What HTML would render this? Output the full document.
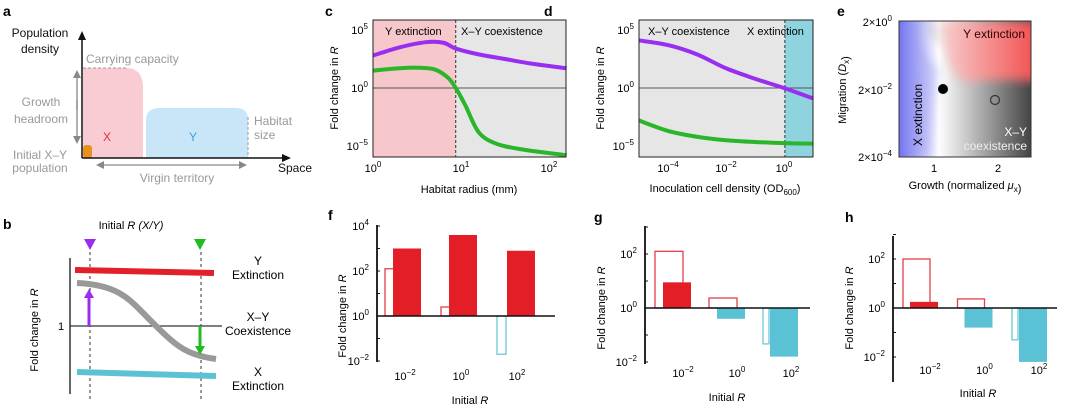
<!DOCTYPE html>
<html><head><meta charset="utf-8"><style>
body{margin:0;background:#fff}
svg{display:block;font-family:"Liberation Sans",sans-serif}
</style></head><body>
<svg id="fig" width="1080" height="411" viewBox="0 0 1080 411">
<defs>
<linearGradient id="grayGrad" x1="0" x2="1" y1="0" y2="0"><stop offset="0" stop-color="#fff"/><stop offset="0.3" stop-color="#fff"/><stop offset="0.5" stop-color="#ccc"/><stop offset="1" stop-color="#444"/></linearGradient>
<linearGradient id="blueGrad" x1="0" x2="1"><stop offset="0" stop-color="#6a6cf0"/><stop offset="1" stop-color="#6a6cf0" stop-opacity="0"/></linearGradient>
<linearGradient id="redGrad" x1="0" x2="1"><stop offset="0" stop-color="#f8d0d0"/><stop offset="1" stop-color="#f24a4a"/></linearGradient>
<filter id="blur"><feGaussianBlur stdDeviation="5"/></filter>
<marker id="ah" markerUnits="userSpaceOnUse" markerWidth="8" markerHeight="8" refX="6" refY="4" orient="auto"><path d="M0,0L8,4L0,8z" fill="#888"/></marker>
<marker id="ahk" markerUnits="userSpaceOnUse" markerWidth="9" markerHeight="8" refX="6" refY="4" orient="auto"><path d="M0,0L9,4L0,8z" fill="#111"/></marker>
<marker id="ahp" markerUnits="userSpaceOnUse" markerWidth="10" markerHeight="10" refX="6" refY="5" orient="auto"><path d="M0,0L9,5L0,10z" fill="#9a2ef0"/></marker>
<marker id="ahg" markerUnits="userSpaceOnUse" markerWidth="10" markerHeight="10" refX="6" refY="5" orient="auto"><path d="M0,0L9,5L0,10z" fill="#22bb22"/></marker>
</defs>

<!-- Panel a -->
<g font-size="12">
<text x="3" y="16" font-weight="bold" font-size="14">a</text>
<text text-anchor="middle" fill="#111"><tspan x="40" y="37">Population</tspan><tspan x="40" y="53">density</tspan></text>
<path d="M83,68 H126 Q143,68 143,88 V158 H83z" fill="#f8ccd2"/>
<path d="M146,158 V120 Q146,108 160,108 H236 Q248,108 248,120 V158z" fill="#c8e6f8"/>
<rect x="83" y="145" width="9" height="13" rx="3" fill="#e8921e"/>
<line x1="83" y1="68" x2="127" y2="68" stroke="#999" stroke-dasharray="3,2"/>
<text x="86" y="63" fill="#999">Carrying capacity</text>
<line x1="248" y1="117" x2="248" y2="158" stroke="#999" stroke-dasharray="3,2"/>
<text fill="#999"><tspan x="254" y="125">Habitat</tspan><tspan x="254" y="139">size</tspan></text>
<line x1="82" y1="158" x2="82" y2="34" stroke="#111" stroke-width="1.5" marker-end="url(#ahk)"/>
<line x1="82" y1="158" x2="288" y2="158" stroke="#111" stroke-width="1.5" marker-end="url(#ahk)"/>
<line x1="77" y1="110" x2="77" y2="72" stroke="#888" stroke-width="1.3" marker-end="url(#ah)"/>
<line x1="77" y1="100" x2="77" y2="142" stroke="#888" stroke-width="1.3" marker-end="url(#ah)"/>
<text fill="#999" text-anchor="middle"><tspan x="41" y="106">Growth</tspan><tspan x="41" y="123">headroom</tspan></text>
<text fill="#999" text-anchor="middle"><tspan x="40" y="159">Initial X–Y</tspan><tspan x="40" y="172">population</tspan></text>
<line x1="160" y1="165" x2="98" y2="165" stroke="#888" stroke-width="1.3" marker-end="url(#ah)"/>
<line x1="160" y1="165" x2="245" y2="165" stroke="#888" stroke-width="1.3" marker-end="url(#ah)"/>
<text x="177" y="182" fill="#999" text-anchor="middle">Virgin territory</text>
<text x="278" y="172" fill="#111">Space</text>
<text x="107" y="141" fill="#e03040" text-anchor="middle">X</text>
<text x="193" y="141" fill="#3aa0dd" text-anchor="middle">Y</text>
</g>

<!-- Panel b -->
<g font-size="11">
<text x="3" y="229" font-weight="bold" font-size="14">b</text>
<text x="131" y="229" text-anchor="middle">Initial <tspan font-style="italic">R (X/Y)</tspan></text>
<path d="M84,239 H96 L90,250z" fill="#9a2ef0"/>
<path d="M194,239 H206 L200,250z" fill="#22bb22"/>
<line x1="90" y1="252" x2="90" y2="400" stroke="#333" stroke-dasharray="3,3"/>
<line x1="201" y1="252" x2="201" y2="400" stroke="#333" stroke-dasharray="3,3"/>
<line x1="70" y1="258" x2="70" y2="394" stroke="#333" stroke-width="1.5"/>
<line x1="70" y1="326" x2="222" y2="326" stroke="#333" stroke-width="1.2"/>
<text x="61" y="330" text-anchor="middle">1</text>
<path d="M75,270 L214,273" stroke="#e2202a" stroke-width="6"/>
<path d="M77,283 C120,285 130,300 150,320 C175,345 185,355 216,359" stroke="#999" stroke-width="6" fill="none"/>
<path d="M77,372 L216,376" stroke="#5bc2d6" stroke-width="6"/>
<line x1="89" y1="326" x2="89" y2="292" stroke="#9a2ef0" stroke-width="3" marker-end="url(#ahp)"/>
<line x1="200" y1="326" x2="200" y2="352" stroke="#22bb22" stroke-width="3" marker-end="url(#ahg)"/>
<text text-anchor="middle" font-size="12"><tspan x="258" y="265">Y</tspan><tspan x="258" y="279">Extinction</tspan></text>
<text text-anchor="middle" font-size="12"><tspan x="258" y="321">X–Y</tspan><tspan x="258" y="335">Coexistence</tspan></text>
<text text-anchor="middle" font-size="12"><tspan x="258" y="376">X</tspan><tspan x="258" y="390">Extinction</tspan></text>
<text transform="translate(38,330) rotate(-90)" text-anchor="middle">Fold change in <tspan font-style="italic">R</tspan></text>
</g>

<!-- Panel e heatmap -->
<g font-size="11">
<text x="837" y="16" font-weight="bold" font-size="14">e</text>
<clipPath id="eclip"><rect x="899" y="21" width="132" height="136"/></clipPath>
<g clip-path="url(#eclip)">
<rect x="899" y="21" width="132" height="136" fill="url(#grayGrad)"/>
<rect x="899" y="21" width="40" height="136" fill="url(#blueGrad)"/>
<path d="M899,21 H920 Q915,50 940,70 Q935,80 930,157 H899z" fill="#9090f0" opacity="0.35" filter="url(#blur)"/>
<path d="M940,21 H1040 V82 Q990,78 965,82 Q945,70 940,21z" fill="url(#redGrad)" filter="url(#blur)"/>
<path d="M899,21 H925 Q930,40 940,45 L935,21z" fill="#bbb" opacity="0.5" filter="url(#blur)"/>
</g>
<rect x="899" y="21" width="132" height="136" fill="none" stroke="#333"/>
<circle cx="943" cy="89" r="5" fill="#000"/>
<circle cx="995" cy="100" r="4.5" fill="none" stroke="#333" stroke-width="1.2"/>
<text x="1025" y="38" text-anchor="end" font-size="12" fill="#300">Y extinction</text>
<text transform="translate(922,115) rotate(-90)" text-anchor="middle" font-size="12">X extinction</text>
<text x="1027" y="136" text-anchor="end" font-size="12" fill="#fff">X–Y</text>
<text x="1027" y="150" text-anchor="end" font-size="12" fill="#eee">coexistence</text>
<text x="892" y="26" text-anchor="end">2×10<tspan dy="-5" font-size="8">0</tspan></text>
<text x="892" y="94" text-anchor="end">2×10<tspan dy="-5" font-size="8">−2</tspan></text>
<text x="892" y="161" text-anchor="end">2×10<tspan dy="-5" font-size="8">−4</tspan></text>
<text x="934" y="172" text-anchor="middle">1</text>
<text x="998" y="172" text-anchor="middle">2</text>
<text x="965" y="189" text-anchor="middle">Growth (normalized <tspan font-style="italic">μ</tspan><tspan font-size="8" dy="3">x</tspan>)</text>
<text transform="translate(846,90) rotate(-90)" text-anchor="middle">Migration (<tspan font-style="italic">D</tspan><tspan font-size="8" dy="3">x</tspan>)</text>
</g>
<g id="charts"></g>
</svg>
<script>
// Panel c data (log10 values)
const cX = [0, 0.3, 0.6, 0.8, 0.94, 1.2, 1.5, 1.8, 2.2];
const cPurple = [2.8, 3.5, 3.95, 3.9, 3.4, 2.9, 2.5, 2.1, 1.7];
const cGreenX = [0, 0.3, 0.5, 0.7, 0.85, 0.94, 1.05, 1.2, 1.4, 1.7, 2.2];
const cGreen = [1.5, 1.7, 1.75, 1.6, 0.9, 0, -1.5, -3.8, -4.8, -5.3, -5.8];
const cXTicks = [0, 1, 2];
const cYTicks = [5, 0, -5];
// Panel d data
const dX = [-5, -4, -3, -2, -1, 0, 1];
const dPurple = [4.1, 3.7, 2.9, 1.7, 0.8, 0, -0.9];
const dGreen = [-2.8, -3.7, -4.2, -4.5, -4.65, -4.75, -4.8];
const dXTicks = [-4, -2, 0];
const dYTicks = [5, 0, -5];
// Bar panels: categories and log10 values
const barCats = ["−2", "0", "2"];
const fHollow = [2.1, 0.4, -1.7];
const fFilled = [3.0, 3.6, 2.9];
const gHollow = [2.1, 0.37, -1.33];
const gFilled = [0.95, -0.4, -1.8];
const hHollow = [2.0, 0.37, -1.3];
const hFilled = [0.25, -0.8, -2.2];

const NS = "http://www.w3.org/2000/svg";
const root = document.getElementById("charts");
function mk(tag, attrs, parent) {
  const e = document.createElementNS(NS, tag);
  for (const k in attrs) e.setAttribute(k, attrs[k]);
  (parent || root).appendChild(e);
  return e;
}
function pow(x, y, base, exp, anchor, fs) {
  const t = mk("text", {x: x, y: y, "text-anchor": anchor || "middle", "font-size": fs || 11});
  t.textContent = base;
  const s = mk("tspan", {dy: -5, "font-size": 8}, t);
  s.textContent = exp;
  return t;
}
function smoothPath(xs, ys, sx, sy) {
  const p = xs.map((v, i) => [sx(v), sy(ys[i])]);
  let d = "M" + p[0][0] + "," + p[0][1];
  for (let i = 0; i < p.length - 1; i++) {
    const p0 = p[i - 1] || p[i], p1 = p[i], p2 = p[i + 1], p3 = p[i + 2] || p2;
    d += "C" + (p1[0] + (p2[0] - p0[0]) / 6) + "," + (p1[1] + (p2[1] - p0[1]) / 6) + " " + (p2[0] - (p3[0] - p1[0]) / 6) + "," + (p2[1] - (p3[1] - p1[1]) / 6) + " " + p2[0] + "," + p2[1];
  }
  return d;
}

// ---- Panel c ----
(function () {
  const g = mk("g", {});
  
  
  const x0 = 373, x1 = 566, y0 = 20, y1 = 157;
  const sx = v => x0 + v * 88;
  const sy = v => 88 - v * 11.6;
  const lab = mk("text", {x: 325, y: 16, "font-weight": "bold", "font-size": 14}, g); lab.textContent = "c";
  
  
  const r1 = mk("rect", {x: x0, y: y0, width: sx(0.94) - x0, height: y1 - y0, fill: "#f6c8cc"}, g);
  
  
  const r2 = mk("rect", {x: sx(0.94), y: y0, width: x1 - sx(0.94), height: y1 - y0, fill: "#e6e6e6"}, g);
  
  
  mk("line", {x1: sx(0.94), x2: sx(0.94), y1: y0, y2: y1, stroke: "#333", "stroke-dasharray": "3,2"}, g);
  mk("line", {x1: x0, x2: x1, y1: sy(0), y2: sy(0), stroke: "#555"}, g);
  const pp = mk("path", {d: smoothPath(cX, cPurple, sx, sy), stroke: "#9a2ef0", "stroke-width": 4, fill: "none"}, g);
  
  
  const gp = mk("path", {d: smoothPath(cGreenX, cGreen, sx, sy), stroke: "#2ab52a", "stroke-width": 4, fill: "none"}, g);
  
  
  mk("rect", {x: x0, y: y0, width: x1 - x0, height: y1 - y0, fill: "none", stroke: "#222"}, g);
  const t1 = mk("text", {x: 385, y: 35, "font-size": 11}, g); t1.textContent = "Y extinction";
  
  
  const t2 = mk("text", {x: 461, y: 35, "font-size": 11}, g); t2.textContent = "X–Y coexistence";
  
  
  cYTicks.forEach(v => {
    const t = pow(x0 - 5, sy(v) + 4, "10", v < 0 ? "−" + (-v) : String(v), "end");
    
    
  });
  cXTicks.forEach(v => {
    const t = pow(sx(v), 172, "10", String(v));
    
    
  });
  const xt = mk("text", {x: 469, y: 193, "text-anchor": "middle", "font-size": 11}, g); xt.textContent = "Habitat radius (mm)";
  
  
  const yt = mk("text", {transform: "translate(338,88) rotate(-90)", "text-anchor": "middle", "font-size": 11}, g);
  yt.innerHTML = 'Fold change in <tspan font-style="italic">R</tspan>';
  
  
})();

// ---- Panel d ----
(function () {
  const g = mk("g", {});
  
  
  const x0 = 639, x1 = 813, y0 = 20, y1 = 157;
  const sx = v => 784 + v * 29;
  const sy = v => 88 - v * 11.6;
  const lab = mk("text", {x: 544, y: 16, "font-weight": "bold", "font-size": 14}, g); lab.textContent = "d";
  
  
  const r1 = mk("rect", {x: x0, y: y0, width: sx(0.03) - x0, height: y1 - y0, fill: "#e6e6e6"}, g);
  
  
  const r2 = mk("rect", {x: sx(0.03), y: y0, width: x1 - sx(0.03), height: y1 - y0, fill: "#8fd3df"}, g);
  
  
  mk("line", {x1: sx(0.03), x2: sx(0.03), y1: y0, y2: y1, stroke: "#333", "stroke-dasharray": "3,2"}, g);
  mk("line", {x1: x0, x2: x1, y1: sy(0), y2: sy(0), stroke: "#555"}, g);
  const pp = mk("path", {d: smoothPath(dX, dPurple, sx, sy), stroke: "#9a2ef0", "stroke-width": 4, fill: "none"}, g);
  
  
  const gp = mk("path", {d: smoothPath(dX, dGreen, sx, sy), stroke: "#2ab52a", "stroke-width": 4, fill: "none"}, g);
  
  
  mk("rect", {x: x0, y: y0, width: x1 - x0, height: y1 - y0, fill: "none", stroke: "#222"}, g);
  const t1 = mk("text", {x: 648, y: 35, "font-size": 11}, g); t1.textContent = "X–Y coexistence";
  
  
  const t2 = mk("text", {x: 747, y: 35, "font-size": 11}, g); t2.textContent = "X extinction";
  
  
  dYTicks.forEach(v => {
    const t = pow(x0 - 5, sy(v) + 4, "10", v < 0 ? "−" + (-v) : String(v), "end");
    
    
  });
  dXTicks.forEach(v => {
    const t = pow(sx(v), 172, "10", v < 0 ? "−" + (-v) : String(v));
    
    
  });
  const xt = mk("text", {x: 725, y: 192, "text-anchor": "middle", "font-size": 11}, g);
  xt.innerHTML = 'Inoculation cell density (OD<tspan font-size="8" dy="3">600</tspan><tspan dy="-3">)</tspan>';
  
  
  const yt = mk("text", {transform: "translate(604,88) rotate(-90)", "text-anchor": "middle", "font-size": 11}, g);
  yt.innerHTML = 'Fold change in <tspan font-style="italic">R</tspan>';
  
  
})();

// ---- Bar panels ----
function barPanel(cfg, hollow, filled) {
  const g = mk("g", {});
  
  
  const sy = v => cfg.zero - v * cfg.dec;
  const lab = mk("text", {x: cfg.lx, y: cfg.ly, "font-weight": "bold", "font-size": 14}, g); lab.textContent = cfg.name;
  
  
  barCats.forEach((c, i) => {
    const gx = cfg.g0 + i * cfg.gs;
    const hv = hollow[i], fv = filled[i];
    const neg = hv < 0 && fv < 0;
    const hw = neg ? 6 : (hv < 0 ? cfg.hw : cfg.hw);
    const hb = mk("rect", {x: gx, y: Math.min(sy(hv), sy(0)), width: hw, height: Math.abs(sy(hv) - sy(0)), fill: "none", stroke: hv >= 0 ? "#e2404a" : "#6cc8d8", "stroke-width": 1.3}, g);
    
    
    const fx = gx + (neg ? 7 : (hv < 0 ? 10 : cfg.off));
    const fb = mk("rect", {x: fx, y: Math.min(sy(fv), sy(0)), width: cfg.fw, height: Math.abs(sy(fv) - sy(0)), fill: fv >= 0 ? "#e41e26" : "#5bc2d6"}, g);
    
    
    const t = pow(cfg.g0 + i * cfg.gs + cfg.lbl, cfg.ty, "10", c);
    
    
  });
  const ax = mk("line", {x1: cfg.ax, x2: cfg.ax, y1: cfg.at, y2: cfg.ab, stroke: "#111", "stroke-width": 1.8}, g);
  
  
  mk("line", {x1: cfg.ax, x2: cfg.bx, y1: sy(0), y2: sy(0), stroke: "#111", "stroke-width": 1.5}, g);
  cfg.yt.forEach(v => {
    const t = pow(cfg.ax - 8, sy(v) + 4, "10", v < 0 ? "−" + (-v) : String(v), "end");
    
    
    mk("line", {x1: cfg.ax, x2: cfg.ax + 3, y1: sy(v), y2: sy(v), stroke: "#111"}, g);
  });
  cfg.minor.forEach(v => mk("line", {x1: cfg.ax, x2: cfg.ax + 3, y1: sy(v), y2: sy(v), stroke: "#111"}, g));
  const xt = mk("text", {x: cfg.xtx, y: cfg.xty, "text-anchor": "middle", "font-size": 11}, g);
  xt.innerHTML = 'Initial <tspan font-style="italic">R</tspan>';
  
  
  const yt = mk("text", {transform: "translate(" + cfg.ytx + "," + cfg.zero + ") rotate(-90)", "text-anchor": "middle", "font-size": 11}, g);
  yt.innerHTML = 'Fold change in <tspan font-style="italic">R</tspan>';
  
  
}
barPanel({name: "f", lx: 328, ly: 220, zero: 316, dec: 22.5, g0: 385, gs: 56, hw: 9, off: 8, fw: 28, lbl: 20, ty: 380, ax: 377, at: 225, ab: 362, bx: 555, yt: [4, 2, 0, -2], minor: [3, 1, -1], xtx: 470, xty: 404, ytx: 346}, fHollow, fFilled);
barPanel({name: "g", lx: 594, ly: 222, zero: 308, dec: 27, g0: 655, gs: 54, hw: 28, off: 8, fw: 28, lbl: 28, ty: 377, ax: 645, at: 226, ab: 364, bx: 810, yt: [2, 0, -2], minor: [3, 1, -1], xtx: 727, xty: 401, ytx: 605}, gHollow, gFilled);
barPanel({name: "h", lx: 845, ly: 222, zero: 308, dec: 24.5, g0: 903, gs: 54.5, hw: 27, off: 7, fw: 28, lbl: 27, ty: 374, ax: 893, at: 236, ab: 382, bx: 1057, yt: [2, 0, -2], minor: [3, 1, -1], xtx: 978, xty: 397, ytx: 853}, hHollow, hFilled);
</script>
</body></html>
